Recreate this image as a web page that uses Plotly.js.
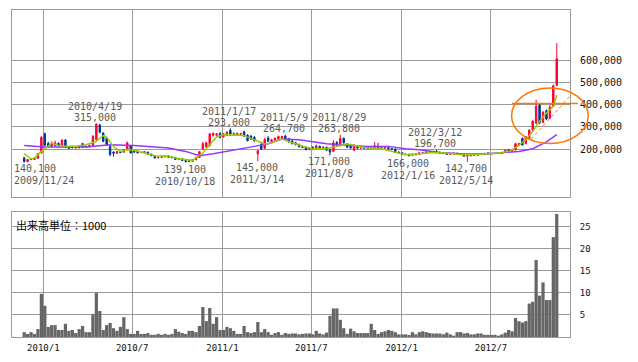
<!DOCTYPE html>
<html><head><meta charset="utf-8">
<script src="https://cdn.plot.ly/plotly-3.0.1.min.js"></script>
<style>html,body{margin:0;padding:0;background:#fff}#chart{width:638px;height:362px}</style>
</head><body><div id="chart"></div>
<script>
const dates = ['2009-11-23','2009-11-30','2009-12-07','2009-12-14','2009-12-21','2009-12-28',
'2010-01-04','2010-01-11','2010-01-18','2010-01-25','2010-02-01','2010-02-08','2010-02-15','2010-02-22','2010-03-01','2010-03-08','2010-03-15','2010-03-22','2010-03-29','2010-04-05','2010-04-12','2010-04-19','2010-04-26','2010-05-03','2010-05-10','2010-05-17','2010-05-24','2010-05-31','2010-06-07','2010-06-14','2010-06-21','2010-06-28','2010-07-05','2010-07-12','2010-07-19','2010-07-26','2010-08-02','2010-08-09','2010-08-16','2010-08-23','2010-08-30','2010-09-06','2010-09-13','2010-09-20','2010-09-27','2010-10-04','2010-10-11','2010-10-18','2010-10-25','2010-11-01','2010-11-08','2010-11-15','2010-11-22','2010-11-29','2010-12-06','2010-12-13','2010-12-20','2010-12-27',
'2011-01-03','2011-01-10','2011-01-17','2011-01-24','2011-01-31','2011-02-07','2011-02-14','2011-02-21','2011-02-28','2011-03-07','2011-03-14','2011-03-21','2011-03-28','2011-04-04','2011-04-11','2011-04-18','2011-04-25','2011-05-02','2011-05-09','2011-05-16','2011-05-23','2011-05-30','2011-06-06','2011-06-13','2011-06-20','2011-06-27','2011-07-04','2011-07-11','2011-07-18','2011-07-25','2011-08-01','2011-08-08','2011-08-15','2011-08-22','2011-08-29','2011-09-05','2011-09-12','2011-09-19','2011-09-26','2011-10-03','2011-10-10','2011-10-17','2011-10-24','2011-10-31','2011-11-07','2011-11-14','2011-11-21','2011-11-28','2011-12-05','2011-12-12','2011-12-19','2011-12-26',
'2012-01-02','2012-01-09','2012-01-16','2012-01-23','2012-01-30','2012-02-06','2012-02-13','2012-02-20','2012-02-27','2012-03-05','2012-03-12','2012-03-19','2012-03-26','2012-04-02','2012-04-09','2012-04-16','2012-04-23','2012-04-30','2012-05-07','2012-05-14','2012-05-21','2012-05-28','2012-06-04','2012-06-11','2012-06-18','2012-06-25','2012-07-02','2012-07-09','2012-07-16','2012-07-23','2012-07-30','2012-08-06','2012-08-13','2012-08-20','2012-08-27','2012-09-03','2012-09-10','2012-09-17','2012-09-24','2012-10-01','2012-10-08','2012-10-15','2012-10-22','2012-10-29','2012-11-05','2012-11-12'];

const openP = [161000,143000,155000,153000,158000,182000,268000,225000,212000,215000,225000,212000,240000,207000,212000,205000,205000,224000,208000,210000,216000,242000,308000,272000,250000,212000,186000,181000,188000,186000,198000,214000,192000,190000,184000,184000,186000,177000,170000,161000,162000,165000,169000,164000,162000,153000,157000,149000,147000,145000,152000,162000,200000,210000,215000,262000,262000,270000,
255000,262000,284000,262000,263000,266000,278000,262000,258000,252000,178000,222000,203000,250000,235000,240000,244000,250000,258000,246000,236000,228000,220000,212000,208000,198000,208000,200000,212000,205000,208000,195000,190000,230000,215000,248000,222000,212000,195000,212000,204000,205000,207000,203000,205000,212000,205000,204000,206000,202000,200000,186000,
183000,176000,176000,172000,174000,176000,183000,180000,186000,184000,190000,185000,181000,182000,176000,178000,181000,178000,178000,168000,170000,175000,172000,177000,180000,182000,178000,179000,180000,181000,185000,197000,190000,196000,218000,248000,225000,248000,286000,317000,398000,320000,372000,338000,392000,486000];
const highP = [163000,155000,158000,160000,182000,258000,274000,232000,235000,238000,230000,244000,245000,212000,214000,210000,216000,228000,215000,220000,263000,315000,313000,275000,256000,215000,190000,192000,191000,200000,233000,218000,196000,193000,188000,191000,188000,179000,172000,166000,169000,171000,172000,167000,164000,160000,159000,152000,150000,154000,165000,190000,232000,233000,272000,275000,272000,276000,
272000,280000,293000,275000,274000,273000,282000,266000,262000,258000,196000,225000,250000,258000,246000,252000,260000,260000,264700,250000,240000,232000,225000,215000,211000,207000,212000,219000,215000,212000,210000,200000,240000,235000,263800,252000,226000,216000,222000,214000,209000,208000,209000,208000,232000,228000,208000,209000,208000,205000,202000,189000,
185000,180000,179000,179000,182000,186000,187000,190000,190000,192000,196700,188000,184000,184000,182000,184000,183000,181000,180000,178000,178000,178000,180000,181000,183000,186000,182000,183000,184000,185000,197000,200000,196000,228000,228000,252000,258000,288000,328000,421000,403000,370000,378000,398000,490000,676000];
const lowP = [140100,141000,150000,151000,156000,180000,212000,208000,208000,212000,208000,210000,205000,200000,203000,202000,203000,205000,206000,208000,214000,238000,270000,230000,215000,168000,165000,178000,181000,182000,195000,180000,183000,180000,181000,182000,174000,167000,157000,158000,160000,163000,161000,159000,151000,150000,146000,139100,142000,143000,150000,160000,198000,205000,212000,255000,258000,248000,
252000,258000,258000,258000,258000,262000,254000,234000,240000,232000,145000,196000,200000,232000,230000,236000,240000,246000,242000,228000,220000,216000,207000,204000,194000,195000,197000,198000,201000,202000,192000,171000,186000,210000,212000,224000,204000,200000,190000,200000,201000,201000,200000,200000,203000,202000,200000,201000,198000,197000,182000,179000,
173000,172000,166000,170000,172000,174000,177000,178000,182000,182000,181000,178000,177000,174000,174000,176000,175000,174000,165000,142700,166000,169000,170000,175000,175000,175000,176000,177000,178000,179000,183000,187000,188000,194000,214000,216000,220000,244000,278000,312000,312000,316000,330000,334000,388000,484000];
const closeP = [143000,153000,153000,158000,180000,253000,218000,212000,226000,228000,213000,240000,208000,204000,205000,206000,212000,208000,212000,216000,257000,312000,276000,235000,220000,175000,181000,188000,184000,196000,228000,182000,186000,183000,185000,188000,176000,170000,160000,163000,166000,168000,163000,161000,153000,157000,148000,144000,145000,152000,162000,188000,224000,228000,268000,270000,268000,252000,
268000,275000,262000,270000,270000,269000,258000,238000,245000,238000,192000,200000,242000,235000,240000,248000,256000,256000,245000,232000,225000,220000,210000,207000,197000,203000,200000,215000,205000,208000,195000,186000,228000,215000,248000,228000,208000,205000,218000,204000,206000,204000,203000,205000,215000,205000,204000,206000,201000,200000,185000,182000,
176000,175000,172000,176000,178000,183000,180000,187000,185000,188000,184000,181000,180000,176000,179000,181000,178000,177000,168000,175000,174000,172000,177000,178000,177000,177000,179000,180000,181000,182000,194000,190000,193000,224000,224000,218000,255000,285000,326000,392000,318000,365000,335000,388000,484000,606000];
const volume = [1.1,0.7,1.1,0.7,1.8,9.8,7.1,2.3,2.7,2.7,1.6,1.6,3.0,1.4,1.6,0.9,1.8,2.5,1.1,1.1,5.2,10.0,5.9,1.6,2.7,3.2,2.0,1.4,2.3,4.5,1.8,0.7,0.7,1.4,0.7,0.7,0.9,0.5,0.5,0.7,0.5,0.7,0.5,0.7,1.8,1.2,0.9,0.7,1.4,1.4,1.1,2.5,6.8,3.6,6.6,3.0,4.5,1.6,
1.6,2.3,2.0,1.4,0.7,0.7,2.5,1.1,0.9,1.1,3.4,1.1,1.8,1.1,0.5,0.9,1.1,0.5,0.9,0.7,0.8,0.8,0.6,0.7,0.8,0.8,0.6,1.4,0.8,0.6,1.0,4.8,6.5,6.5,3.9,2.0,0.7,1.9,1.3,0.9,0.9,0.9,0.9,3.0,1.6,0.7,1.1,1.3,1.6,1.4,1.1,0.6,
0.6,0.6,0.45,1.1,0.6,1.1,1.3,1.1,0.9,0.8,0.8,0.8,0.6,1.0,0.6,0.3,1.1,1.1,0.8,0.9,0.6,0.6,0.8,0.8,0.5,0.5,0.45,0.5,0.3,0.6,1.0,1.6,1.3,4.3,3.6,3.3,3.6,7.6,8.0,17.5,9.4,12.4,8.4,8.4,22.7,27.95];

const ma13Dates = ['2009-11-23','2009-12-07','2009-12-14','2009-12-28','2010-01-11','2010-01-18','2010-02-01','2010-02-15','2010-03-08','2010-03-29','2010-04-19','2010-05-03','2010-05-10','2010-05-24','2010-06-07','2010-06-21','2010-07-05','2010-07-26','2010-08-16','2010-09-13','2010-10-04','2010-11-01','2010-11-08','2010-11-22','2010-12-06','2010-12-20','2011-01-03','2011-01-24','2011-02-14','2011-03-07','2011-03-28','2011-04-11','2011-04-25','2011-05-02','2011-05-23','2011-06-13','2011-07-04','2011-08-01','2011-08-22','2011-09-12','2011-10-03','2011-10-24','2011-11-21','2011-12-12','2012-01-09','2012-02-06','2012-03-05','2012-04-02','2012-04-30','2012-05-28','2012-06-25','2012-07-16','2012-08-06','2012-08-20','2012-09-10','2012-09-24','2012-10-08','2012-10-22','2012-11-05','2012-11-12'];
const ma13 = [179000,155000,160000,189000,212000,227000,216000,212000,212000,219500,234000,260000,252000,211000,189000,197000,194000,182000,170000,167000,156500,149000,159700,182000,219500,254000,264400,264400,260000,242000,222600,227000,242000,245000,230000,212000,201500,201500,212000,224000,212000,204600,201500,189300,174500,179000,184800,182200,174500,174500,179000,182200,189300,204600,241900,279200,324200,361900,391600,441900];
const ma26Dates = ['2009-11-23','2009-12-14','2010-01-04','2010-03-29','2010-04-26','2010-05-17','2010-07-05','2010-08-09','2010-09-13','2010-10-18','2010-11-15','2010-12-13','2011-01-24','2011-03-07','2011-04-04','2011-05-02','2011-06-06','2011-07-04','2011-08-01','2011-09-19','2011-10-24','2011-12-05','2012-01-09','2012-02-06','2012-03-19','2012-04-30','2012-06-11','2012-07-16','2012-08-27','2012-09-24','2012-10-22','2012-11-12'];
const ma26 = [216300,211800,209100,209100,216300,219500,216300,211800,204600,189300,170000,179000,193800,211800,224000,245100,241900,234300,224000,216300,211800,211800,201500,197000,184800,179000,177700,182200,189300,201500,231600,264400];

const peakDates = ['2010-04-19','2011-01-17','2011-05-09','2011-08-29','2012-03-12'];
const peakValues = [315000,293000,264700,263800,196700];
const peakLabels = ['2010/4/19','2011/1/17','2011/5/9','2011/8/29','2012/3/12'];
const troughDates = ['2009-11-23','2010-10-18','2011-03-14','2011-08-08','2012-01-16','2012-05-14'];
const troughValues = [140100,139100,145000,171000,166000,142700];
const troughLabels = ['2009/11/24','2010/10/18','2011/3/14','2011/8/8','2012/1/16','2012/5/14'];

const priceTicks = [200000,300000,400000,500000,600000];
const volTicks = [5,10,15,20,25];
const monthTicks = ['2010-01-01','2010-07-01','2011-01-01','2011-07-01','2012-01-01','2012-07-01'];
const monthLabels = ['2010/1','2010/7','2011/1','2011/7','2012/1','2012/7'];
const volUnitLabel = '出来高単位：1000';

const xRange = ['2009-10-29 03:36','2012-12-09 00:00'];
const mono = 'DejaVu Sans Mono, monospace';
const grid = '#9a9a9a';

const traces = [
  {type:'candlestick', x:dates, open:openP, high:highP, low:lowP, close:closeP, xaxis:'x', yaxis:'y',
   whiskerwidth:0, hoverinfo:'skip',
   increasing:{line:{color:'#ff0033', width:1}, fillcolor:'#ff0033'},
   decreasing:{line:{color:'#003399', width:1}, fillcolor:'#003399'}},
  {type:'scatter', mode:'lines', x:ma26Dates, y:ma26, xaxis:'x', yaxis:'y', line:{color:'#9933ff', width:1.5}, hoverinfo:'skip'},
  {type:'scatter', mode:'lines', x:ma13Dates, y:ma13, xaxis:'x', yaxis:'y', line:{color:'#99cc00', width:1.5}, hoverinfo:'skip'},
  {type:'bar', x:dates, y:volume, xaxis:'x2', yaxis:'y2', marker:{color:'#666666', line:{width:0}}, hoverinfo:'skip'}
];

const fmt = v => v.toLocaleString('en-US');
const annFont = {family:mono, size:10, color:'#5a5a5a'};
const annotations = [];
peakDates.forEach((d,k)=>{
  annotations.push({xref:'x', yref:'y', x:d, y:peakValues[k], text:fmt(peakValues[k]), showarrow:false, xanchor:'center', yanchor:'middle', xshift:-1.5, yshift:6, font:annFont});
  annotations.push({xref:'x', yref:'y', x:d, y:peakValues[k], text:peakLabels[k], showarrow:false, xanchor:'center', yanchor:'middle', xshift:-1.5, yshift:17, font:annFont});
});
troughDates.forEach((d,k)=>{
  const first = k===0;
  const base = first ? {xref:'paper', x:0, xanchor:'left', xshift:0} : {xref:'x', x:d, xanchor:'center', xshift:-1};
  annotations.push(Object.assign({yref:'y', y:troughValues[k], text:fmt(troughValues[k]), showarrow:false, yanchor:'middle', yshift:-6.5, font:annFont}, base));
  annotations.push(Object.assign({yref:'y', y:troughValues[k], text:troughLabels[k], showarrow:false, yanchor:'middle', yshift:-18.5, font:annFont}, base));
});
annotations.push({xref:'paper', yref:'paper', x:0, y:0.38226, xanchor:'left', yanchor:'top', xshift:2, yshift:-3, showarrow:false, text:volUnitLabel, font:{family:'Noto Sans CJK JP, sans-serif', size:11, color:'#000'}});

const orange = '#ff7700';
const shapes = [
  {type:'circle', xref:'paper', yref:'paper', x0:0.8952, x1:1.0328, y0:0.5917, y1:0.7615, line:{color:orange, width:1.5}},
  {type:'line', xref:'paper', yref:'paper', x0:0.8961, x1:1.0143, y0:0.7141, y1:0.7141, line:{color:orange, width:1.5}},
  {type:'line', xref:'paper', yref:'paper', x0:0.9306, x1:1.0009, y0:0.6055, y1:0.7385, line:{color:orange, width:1, dash:'dot'}}
];

const axBase = {showgrid:true, gridcolor:grid, gridwidth:1, showline:true, mirror:true, linecolor:grid, linewidth:1, zeroline:false, ticks:''};
const layout = {
  width:638, height:362, margin:{l:12, r:68, t:10, b:25},
  paper_bgcolor:'#fff', plot_bgcolor:'#fff', showlegend:false, bargap:0.06, boxgap:0.4,
  xaxis: Object.assign({}, axBase, {type:'date', range:xRange, anchor:'y', tickmode:'array', tickvals:monthTicks, showticklabels:false, rangeslider:{visible:false}}),
  yaxis: Object.assign({}, axBase, {domain:[0.42813,1], range:[-15700,824700], side:'right', tickmode:'array', tickvals:priceTicks, tickformat:',d', tickfont:{family:mono, size:10, color:'#111'}, ticklabelstandoff:7}),
  xaxis2: Object.assign({}, axBase, {type:'date', range:xRange, anchor:'y2', tickmode:'array', tickvals:monthTicks, ticktext:monthLabels, tickfont:{family:mono, size:9, color:'#111'}, ticklabelstandoff:2}),
  yaxis2: Object.assign({}, axBase, {domain:[0,0.38226], range:[0,28.4], side:'right', tickmode:'array', tickvals:volTicks, tickfont:{family:mono, size:9, color:'#111'}, ticklabelstandoff:7}),
  annotations, shapes
};
Plotly.newPlot('chart', traces, layout, {staticPlot:true, displayModeBar:false});
</script></body></html>
